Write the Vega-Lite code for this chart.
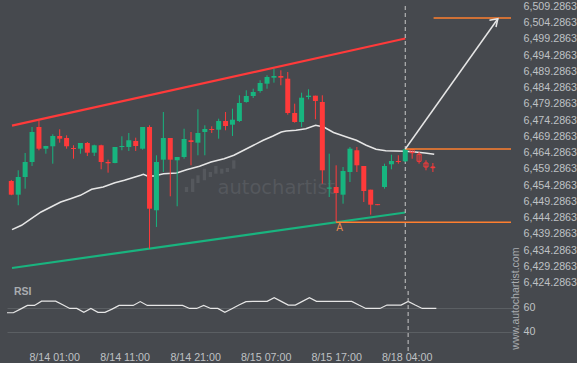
{
  "$schema": "https://vega.github.io/schema/vega-lite/v6.json",
  "background": "#46494e",
  "padding": {"left": 7, "top": 0, "right": 0, "bottom": 0},
  "bounds": "flush",
  "spacing": 2,
  "config": {
    "view": {"stroke": null},
    "axis": {"labelFont": "Liberation Sans", "labelFontSize": 10.7, "labelColor": "#bfc1c4", "domain": false, "ticks": false, "grid": false}
  },
  "datasets": {
    "candles": [
      {"k": 0, "o": 6455.58, "h": 6455.9, "l": 6451.2, "c": 6451.37},
      {"k": 1, "o": 6451.37, "h": 6458.87, "l": 6448.11, "c": 6456.81},
      {"k": 2, "o": 6456.81, "h": 6464.2, "l": 6453.21, "c": 6461.43},
      {"k": 3, "o": 6461.43, "h": 6472.2, "l": 6460.2, "c": 6470.66},
      {"k": 4, "o": 6472.2, "h": 6474.26, "l": 6465.03, "c": 6465.52},
      {"k": 5, "o": 6465.52, "h": 6466.4, "l": 6463.98, "c": 6466.35},
      {"k": 6, "o": 6466.26, "h": 6469.95, "l": 6460.91, "c": 6469.43},
      {"k": 7, "o": 6469.43, "h": 6471.49, "l": 6467.37, "c": 6468.6},
      {"k": 8, "o": 6468.81, "h": 6469.64, "l": 6465.52, "c": 6466.26},
      {"k": 9, "o": 6465.74, "h": 6466.57, "l": 6462.44, "c": 6465.43},
      {"k": 10, "o": 6465.52, "h": 6467.27, "l": 6463.98, "c": 6467.27},
      {"k": 11, "o": 6467.27, "h": 6467.58, "l": 6463.27, "c": 6464.29},
      {"k": 12, "o": 6464.29, "h": 6466.75, "l": 6463.27, "c": 6466.57},
      {"k": 13, "o": 6466.57, "h": 6466.75, "l": 6459.18, "c": 6461.43},
      {"k": 14, "o": 6461.43, "h": 6462.14, "l": 6458.14, "c": 6461.03},
      {"k": 15, "o": 6461.12, "h": 6466.04, "l": 6461.03, "c": 6466.04},
      {"k": 16, "o": 6466.04, "h": 6469.34, "l": 6465.03, "c": 6466.35},
      {"k": 17, "o": 6466.04, "h": 6470.35, "l": 6464.81, "c": 6468.11},
      {"k": 18, "o": 6467.89, "h": 6468.91, "l": 6464.81, "c": 6466.35},
      {"k": 19, "o": 6465.52, "h": 6472.2, "l": 6465.21, "c": 6472.2},
      {"k": 20, "o": 6472.2, "h": 6472.72, "l": 6434.75, "c": 6447.06},
      {"k": 21, "o": 6446.57, "h": 6463.49, "l": 6441.43, "c": 6461.43},
      {"k": 22, "o": 6462.14, "h": 6476.81, "l": 6458.35, "c": 6468.81},
      {"k": 23, "o": 6468.81, "h": 6468.81, "l": 6450.87, "c": 6462.14},
      {"k": 24, "o": 6461.95, "h": 6462.97, "l": 6447.8, "c": 6462.97},
      {"k": 25, "o": 6462.97, "h": 6471.67, "l": 6462.44, "c": 6468.51},
      {"k": 26, "o": 6468.11, "h": 6470.66, "l": 6460.41, "c": 6467.58},
      {"k": 27, "o": 6467.37, "h": 6477.64, "l": 6463.49, "c": 6470.35},
      {"k": 28, "o": 6470.66, "h": 6472.72, "l": 6463.49, "c": 6471.58},
      {"k": 29, "o": 6471.58, "h": 6472.41, "l": 6470.35, "c": 6471.27},
      {"k": 30, "o": 6471.37, "h": 6474.75, "l": 6468.6, "c": 6474.04},
      {"k": 31, "o": 6474.04, "h": 6476.81, "l": 6471.18, "c": 6472.51},
      {"k": 32, "o": 6472.91, "h": 6477.83, "l": 6469.43, "c": 6474.44},
      {"k": 33, "o": 6474.04, "h": 6481.95, "l": 6473.74, "c": 6479.58},
      {"k": 34, "o": 6479.89, "h": 6483.49, "l": 6479.67, "c": 6481.74},
      {"k": 35, "o": 6481.74, "h": 6483.98, "l": 6481.12, "c": 6482.97},
      {"k": 36, "o": 6483.27, "h": 6486.57, "l": 6482.75, "c": 6485.74},
      {"k": 37, "o": 6485.52, "h": 6488.11, "l": 6483.98, "c": 6487.58},
      {"k": 38, "o": 6487.37, "h": 6490.14, "l": 6485.83, "c": 6487.89},
      {"k": 39, "o": 6487.89, "h": 6489.64, "l": 6485.03, "c": 6487.37},
      {"k": 40, "o": 6487.06, "h": 6489.12, "l": 6475.98, "c": 6476.51},
      {"k": 41, "o": 6476.51, "h": 6479.37, "l": 6473.52, "c": 6473.74},
      {"k": 42, "o": 6473.74, "h": 6482.75, "l": 6472.2, "c": 6481.21},
      {"k": 43, "o": 6481.43, "h": 6483.8, "l": 6480.72, "c": 6481.83},
      {"k": 44, "o": 6481.83, "h": 6481.83, "l": 6474.57, "c": 6480.2},
      {"k": 45, "o": 6479.89, "h": 6481.95, "l": 6454.75, "c": 6458.87},
      {"k": 46, "o": 6453.21, "h": 6463.98, "l": 6450.66, "c": 6453.58},
      {"k": 47, "o": 6453.74, "h": 6460.41, "l": 6442.87, "c": 6451.89},
      {"k": 48, "o": 6451.37, "h": 6459.89, "l": 6448.6, "c": 6458.66},
      {"k": 49, "o": 6458.35, "h": 6466.04, "l": 6455.27, "c": 6465.52},
      {"k": 50, "o": 6465.03, "h": 6466.04, "l": 6458.35, "c": 6460.41},
      {"k": 51, "o": 6460.2, "h": 6460.2, "l": 6449.12, "c": 6452.51},
      {"k": 52, "o": 6452.91, "h": 6452.91, "l": 6445.21, "c": 6448.29},
      {"k": 53, "o": 6448.45, "h": 6448.45, "l": 6448.15, "c": 6448.15},
      {"k": 54, "o": 6453.74, "h": 6460.91, "l": 6453.21, "c": 6460.2},
      {"k": 55, "o": 6460.72, "h": 6463.67, "l": 6459.18, "c": 6461.74},
      {"k": 56, "o": 6461.74, "h": 6463.49, "l": 6460.91, "c": 6461.43},
      {"k": 57, "o": 6461.64, "h": 6465.52, "l": 6461.43, "c": 6465.34},
      {"k": 58, "o": 6465.27, "h": 6465.4, "l": 6462.44, "c": 6464.29},
      {"k": 59, "o": 6463.8, "h": 6464.51, "l": 6460.91, "c": 6461.64},
      {"k": 60, "o": 6461.12, "h": 6461.95, "l": 6458.87, "c": 6459.89},
      {"k": 61, "o": 6459.89, "h": 6461.12, "l": 6458.35, "c": 6459.67}
    ],
    "rsi": [
      {"k": 0, "r": 55.7}, {"k": 1, "r": 55.7}, {"k": 2, "r": 58.75}, {"k": 3, "r": 61.8}, {"k": 4, "r": 61.8},
      {"k": 5, "r": 65.4}, {"k": 6, "r": 65.4}, {"k": 7, "r": 65.4}, {"k": 8, "r": 62.3}, {"k": 9, "r": 59.3},
      {"k": 10, "r": 59.3}, {"k": 11, "r": 56.0}, {"k": 12, "r": 59.3}, {"k": 13, "r": 56.0}, {"k": 14, "r": 56.0},
      {"k": 15, "r": 58.75}, {"k": 16, "r": 61.8}, {"k": 17, "r": 61.8}, {"k": 18, "r": 61.8}, {"k": 19, "r": 65.0},
      {"k": 20, "r": 61.8}, {"k": 21, "r": 61.8}, {"k": 22, "r": 61.8}, {"k": 23, "r": 61.8}, {"k": 24, "r": 61.8},
      {"k": 25, "r": 61.8}, {"k": 26, "r": 59.3}, {"k": 27, "r": 59.3}, {"k": 28, "r": 61.8}, {"k": 29, "r": 59.3},
      {"k": 30, "r": 59.3}, {"k": 31, "r": 56.0}, {"k": 32, "r": 59.1}, {"k": 33, "r": 62.1}, {"k": 34, "r": 65.0},
      {"k": 35, "r": 65.2}, {"k": 36, "r": 65.2}, {"k": 37, "r": 65.2}, {"k": 38, "r": 68.3}, {"k": 39, "r": 65.2},
      {"k": 40, "r": 62.1}, {"k": 41, "r": 62.1}, {"k": 42, "r": 65.2}, {"k": 43, "r": 68.3}, {"k": 44, "r": 65.2},
      {"k": 45, "r": 65.2}, {"k": 46, "r": 65.2}, {"k": 47, "r": 65.2}, {"k": 48, "r": 65.2}, {"k": 49, "r": 65.2},
      {"k": 50, "r": 62.1}, {"k": 51, "r": 59.3}, {"k": 52, "r": 59.3}, {"k": 53, "r": 59.3}, {"k": 54, "r": 62.1},
      {"k": 55, "r": 62.1}, {"k": 56, "r": 62.1}, {"k": 57, "r": 65.2}, {"k": 58, "r": 62.1}, {"k": 59, "r": 59.3},
      {"k": 60, "r": 59.3}, {"k": 61, "r": 59.3}
    ],
    "ma": [
      {"k": 0.1, "p": 6440.6}, {"k": 1.48, "p": 6441.95}, {"k": 2.89, "p": 6443.98}, {"k": 4.31, "p": 6446.04},
      {"k": 5.73, "p": 6447.58}, {"k": 7.15, "p": 6449.12}, {"k": 8.57, "p": 6450.14}, {"k": 9.99, "p": 6451.18},
      {"k": 11.63, "p": 6453.03}, {"k": 13.29, "p": 6453.74}, {"k": 14.99, "p": 6455.06}, {"k": 16.37, "p": 6455.8},
      {"k": 18.72, "p": 6457.34}, {"k": 19.11, "p": 6457.64}, {"k": 19.67, "p": 6457.12}, {"k": 20.62, "p": 6457.12},
      {"k": 22.04, "p": 6457.83}, {"k": 23.93, "p": 6458.04}, {"k": 25.35, "p": 6459.06}, {"k": 27.23, "p": 6460.11},
      {"k": 28.89, "p": 6461.43}, {"k": 30.78, "p": 6462.44}, {"k": 32.2, "p": 6463.49}, {"k": 33.62, "p": 6465.03},
      {"k": 35.04, "p": 6466.57}, {"k": 36.45, "p": 6468.11}, {"k": 37.87, "p": 6469.43}, {"k": 39.06, "p": 6470.66},
      {"k": 39.77, "p": 6470.97}, {"k": 41.19, "p": 6471.18}, {"k": 42.61, "p": 6471.67}, {"k": 44.03, "p": 6472.72},
      {"k": 45.21, "p": 6472.2}, {"k": 46.62, "p": 6470.51}, {"k": 48.51, "p": 6469.12}, {"k": 49.93, "p": 6468.11},
      {"k": 51.35, "p": 6466.57}, {"k": 52.77, "p": 6465.34}, {"k": 54.18, "p": 6464.91}, {"k": 57.02, "p": 6464.72},
      {"k": 58.44, "p": 6464.51}, {"k": 59.86, "p": 6464.2}, {"k": 61.19, "p": 6463.8}
    ],
    "logo": [
      {"k": 25.35, "lo": 6452.2, "hi": 6453.74}, {"k": 26.24, "lo": 6452.2, "hi": 6456.29},
      {"k": 27.01, "lo": 6454.97, "hi": 6457.34}, {"k": 27.94, "lo": 6455.8, "hi": 6459.37},
      {"k": 28.8, "lo": 6456.81, "hi": 6458.35}, {"k": 29.6, "lo": 6457.83, "hi": 6460.2},
      {"k": 30.45, "lo": 6457.83, "hi": 6459.37}, {"k": 31.26, "lo": 6458.35, "hi": 6459.58},
      {"k": 32.19, "lo": 6459.37, "hi": 6461.95}
    ],
    "channel": [
      {"line": "upper", "k": 0.1, "p": 6472.6}, {"line": "upper", "k": 57, "p": 6499.43},
      {"line": "lower", "k": 0.1, "p": 6428.81}, {"line": "lower", "k": 57, "p": 6445.89}
    ],
    "levels": [
      {"k1": 47, "k2": 72.3, "p": 6442.87},
      {"k1": 57, "k2": 72.3, "p": 6465.43},
      {"k1": 61.1, "k2": 72.3, "p": 6505.74}
    ],
    "arrow": [
      {"seg": "shaft", "ord": 0, "k": 57, "p": 6465.43},
      {"seg": "shaft", "ord": 1, "k": 70.4, "p": 6505.52},
      {"seg": "head", "ord": 0, "k": 69.18, "p": 6505.03},
      {"seg": "head", "ord": 1, "k": 70.4, "p": 6505.52},
      {"seg": "head", "ord": 2, "k": 70.13, "p": 6502.97}
    ]
  },
  "vconcat": [
    {
      "width": 509,
      "height": 283,
      "resolve": {"axis": {"x": "independent", "y": "independent"}},
      "layer": [
        {
          "data": {"name": "logo"},
          "mark": {"type": "rule", "color": "#55585d", "strokeWidth": 3.3},
          "encoding": {
            "x": {"field": "k", "type": "quantitative", "scale": {"domain": [0.1, 72.3], "nice": false, "zero": false}, "axis": null},
            "y": {"field": "lo", "type": "quantitative", "scale": {"domain": [6422.348, 6509.425], "nice": false, "zero": false}, "axis": null},
            "y2": {"field": "hi"}
          }
        },
        {
          "data": {"values": [{"k": 38.35, "p": 6453.5, "t": "autochartist"}]},
          "mark": {"type": "text", "font": "DejaVu Sans", "fontSize": 19.5, "color": "#55585d", "align": "center", "baseline": "middle"},
          "encoding": {
            "x": {"field": "k", "type": "quantitative", "axis": null},
            "y": {"field": "p", "type": "quantitative", "axis": null},
            "text": {"field": "t"}
          }
        },
        {
          "data": {"name": "channel"},
          "mark": {"type": "line", "strokeWidth": 2.2, "clip": true},
          "encoding": {
            "x": {"field": "k", "type": "quantitative", "axis": null},
            "y": {"field": "p", "type": "quantitative", "axis": null},
            "color": {"field": "line", "type": "nominal", "scale": {"domain": ["upper", "lower"], "range": ["#ff3a3a", "#19b47f"]}, "legend": null}
          }
        },
        {
          "data": {"name": "ma"},
          "mark": {"type": "line", "strokeWidth": 1.5, "color": "#e6e6e6", "clip": true},
          "encoding": {
            "x": {"field": "k", "type": "quantitative", "axis": null},
            "y": {"field": "p", "type": "quantitative", "axis": null}
          }
        },
        {
          "data": {"values": [{"k": 57}]},
          "mark": {"type": "rule", "color": "#c8c8c8", "strokeWidth": 1, "strokeDash": [4, 3]},
          "encoding": {
            "x": {"field": "k", "type": "quantitative", "axis": null}
          }
        },
        {
          "data": {"name": "candles"},
          "mark": {"type": "rule", "strokeWidth": 1, "clip": true},
          "encoding": {
            "x": {"field": "k", "type": "quantitative", "axis": null},
            "y": {"field": "l", "type": "quantitative", "axis": {"orient": "right", "values": [6424.2863, 6429.2863, 6434.2863, 6439.2863, 6444.2863, 6449.2863, 6454.2863, 6459.2863, 6464.2863, 6469.2863, 6474.2863, 6479.2863, 6484.2863, 6489.2863, 6494.2863, 6499.2863, 6504.2863, 6509.2863], "format": ",.4f", "labelPadding": 7, "labelOverlap": false, "title": null}},
            "y2": {"field": "h"},
            "color": {"condition": {"test": "datum.c >= datum.o", "value": "#17b57f"}, "value": "#ff3a3a"}
          }
        },
        {
          "data": {"name": "candles"},
          "transform": [{"filter": "datum.k <= 57"}],
          "mark": {"type": "bar", "size": 5, "clip": true},
          "encoding": {
            "x": {"field": "k", "type": "quantitative", "axis": null},
            "y": {"field": "o", "type": "quantitative", "axis": null},
            "y2": {"field": "c"},
            "color": {"condition": {"test": "datum.c >= datum.o", "value": "#17b57f"}, "value": "#ff3a3a"}
          }
        },
        {
          "data": {"name": "candles"},
          "transform": [{"filter": "datum.k > 57"}],
          "mark": {"type": "bar", "size": 4, "filled": false, "strokeWidth": 1, "clip": true},
          "encoding": {
            "x": {"field": "k", "type": "quantitative", "axis": null},
            "y": {"field": "o", "type": "quantitative", "axis": null},
            "y2": {"field": "c"},
            "color": {"condition": {"test": "datum.c >= datum.o", "value": "#17b57f"}, "value": "#ff3a3a"}
          }
        },
        {
          "data": {"name": "levels"},
          "mark": {"type": "rule", "color": "#ff7f2f", "strokeWidth": 1.5},
          "encoding": {
            "x": {"field": "k1", "type": "quantitative", "axis": null},
            "x2": {"field": "k2"},
            "y": {"field": "p", "type": "quantitative", "axis": null}
          }
        },
        {
          "data": {"name": "arrow"},
          "mark": {"type": "line", "color": "#e6e6e6", "strokeWidth": 1.5},
          "encoding": {
            "x": {"field": "k", "type": "quantitative", "axis": null},
            "y": {"field": "p", "type": "quantitative", "axis": null},
            "detail": {"field": "seg"},
            "order": {"field": "ord"}
          }
        },
        {
          "data": {"values": [{"k": 47.5, "p": 6441.1, "t": "A"}]},
          "mark": {"type": "text", "font": "Liberation Sans", "fontSize": 10, "color": "#e8894d", "align": "center", "baseline": "middle"},
          "encoding": {
            "x": {"field": "k", "type": "quantitative", "axis": null},
            "y": {"field": "p", "type": "quantitative", "axis": null},
            "text": {"field": "t"}
          }
        }
      ]
    },
    {
      "width": 509,
      "height": 60,
      "layer": [
        {
          "data": {"name": "rsi"},
          "mark": {"type": "line", "color": "#e6e6e6", "strokeWidth": 1.2, "clip": true},
          "encoding": {
            "x": {"field": "k", "type": "quantitative", "scale": {"domain": [0.1, 72.3], "nice": false, "zero": false},
              "axis": {"values": [7, 17, 27, 37, 47, 57], "labelExpr": "datum.value == 7 ? '8/14 01:00' : datum.value == 17 ? '8/14 11:00' : datum.value == 27 ? '8/14 21:00' : datum.value == 37 ? '8/15 07:00' : datum.value == 47 ? '8/15 17:00' : '8/18 04:00'", "labelPadding": 1.5, "labelFlush": false, "labelOffset": -1.5, "labelOverlap": false, "title": null}},
            "y": {"field": "r", "type": "quantitative", "scale": {"domain": [23.83, 73.83], "nice": false, "zero": false},
              "axis": {"orient": "right", "values": [40, 60], "grid": true, "gridColor": "#5b5f63", "gridWidth": 1, "labelPadding": 7, "title": null}}
          }
        },
        {
          "data": {"values": [{"k": 57}]},
          "mark": {"type": "rule", "color": "#c8c8c8", "strokeWidth": 1, "strokeDash": [4, 3]},
          "encoding": {
            "x": {"field": "k", "type": "quantitative"}
          }
        },
        {
          "data": {"values": [{"k": 1.09, "r": 72.75, "t": "RSI"}]},
          "mark": {"type": "text", "font": "Liberation Sans", "fontSize": 10.5, "fontWeight": "bold", "color": "#a9acb0", "align": "left", "baseline": "middle"},
          "encoding": {
            "x": {"field": "k", "type": "quantitative"},
            "y": {"field": "r", "type": "quantitative"},
            "text": {"field": "t"}
          }
        },
        {
          "data": {"values": [{"k": 72.23, "r": 67.5, "t": "www.autochartist.com"}]},
          "mark": {"type": "text", "font": "Liberation Sans", "fontSize": 10.5, "color": "#a9acb0", "align": "center", "baseline": "middle", "angle": 270},
          "encoding": {
            "x": {"field": "k", "type": "quantitative"},
            "y": {"field": "r", "type": "quantitative"},
            "text": {"field": "t"}
          }
        }
      ]
    }
  ]
}
